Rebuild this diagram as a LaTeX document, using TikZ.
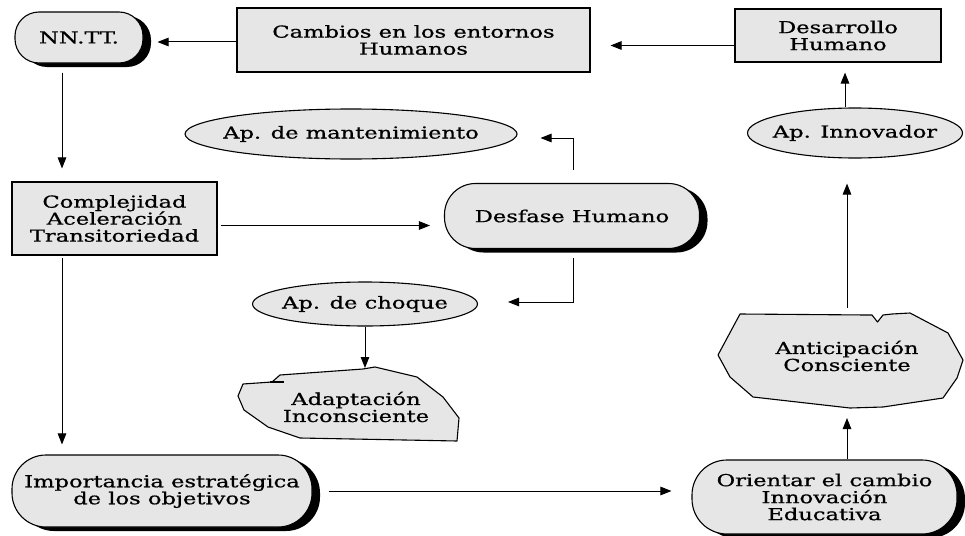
\documentclass[tikz,border=0pt]{standalone}
\usepackage{fontspec}
\setmainfont{DejaVu Serif}[FakeStretch=1.37,FakeBold=0.8]
\usetikzlibrary{shapes.geometric,shadows,arrows.meta}
\definecolor{boxfill}{RGB}{230,230,230}
\begin{document}
\begin{tikzpicture}[x=1pt,y=-1pt,
  every node/.style={font=\fontsize{16.5}{17}\selectfont, align=center, text=black},
  box/.style={draw, line width=1.1pt, fill=boxfill, rectangle, inner sep=0pt},
  pill/.style={draw, line width=1.1pt, fill=boxfill, rectangle, inner sep=0pt,
    drop shadow={shadow xshift=8pt, shadow yshift=-4pt, fill=black, opacity=1}},
  oval/.style={draw, line width=1.1pt, fill=boxfill, ellipse, inner sep=0pt},
  arr/.style={-{Triangle[length=11pt,width=8.5pt]}, line width=1pt},
  blob/.style={draw, line width=1.1pt, fill=boxfill, line join=round}
]
\useasboundingbox[fill=white] (0,0) rectangle (965,535);

% nodes
\node[pill, minimum width=128pt, minimum height=51pt, rounded corners=24pt] (nntt) at (79,37.5) {NN.TT.};
\node[box, minimum width=353pt, minimum height=64pt] (cambios) at (413.5,40) {Cambios en los entornos\\Humanos};
\node[box, minimum width=206pt, minimum height=53pt] (desarrollo) at (838,35.5) {Desarrollo\\Humano};
\node[oval, minimum width=215pt, minimum height=50pt, label={center:Ap. Innovador}] (innov) at (855,133) {};
\node[oval, minimum width=332pt, minimum height=50pt, label={center:Ap. de mantenimiento}] (mant) at (351,134) {};
\node[pill, minimum width=255pt, minimum height=65pt, rounded corners=31pt] (desfase) at (572,216) {Desfase Humano};
\node[box, minimum width=205pt, minimum height=73pt] (complej) at (114.5,218.5) {Complejidad\\Aceleración\\Transitoriedad};
\node[oval, minimum width=225pt, minimum height=44pt, label={center:Ap. de choque}] (choque) at (365,304) {};
\node[pill, minimum width=300pt, minimum height=72pt, rounded corners=34pt] (importancia) at (162,491) {Importancia estratégica\\de los objetivos};
\node[pill, minimum width=265pt, minimum height=74pt, rounded corners=35pt] (orientar) at (824.5,497) {Orientar el cambio\\Innovación\\Educativa};

% irregular shapes
\draw[blob] (740,314) -- (867,315) -- (872,315) -- (877.5,322) -- (883,315) -- (892,314) -- (910,313)
  -- (948,333) -- (963,360) -- (957,378) -- (943,398) -- (883,407) -- (850,408) -- (753,397)
  -- (730,377) -- (718,355) -- cycle;
\node (antic) at (847,356) {Anticipación\\Consciente};

\draw[blob] (280,375) -- (363,369) -- (375,367) -- (417,377) -- (443,397) -- (459,418) -- (457,441)
  -- (300,438) -- (268,427) -- (244,410) -- (238,396) -- (243,384) -- (272,382) -- cycle;
\draw[line width=1.1pt] (270,382) -- (284,382);
\node (adapt) at (356,407) {Adaptación\\Inconsciente};

% named coordinates
\coordinate (adtop) at (365,368);
\coordinate (antbot) at (847,408);
\coordinate (anttop) at (847,313);
\coordinate (mantr) at ([yshift=-4pt]mant.east);
\coordinate (choqr) at ([yshift=2pt]choque.east);

% connectors
\draw[arr, shorten >=14pt] ([yshift=-2pt]cambios.west) -- ([yshift=-2pt]cambios.west -| nntt.east);
\draw[arr, shorten >=20pt] ([yshift=-10pt]desarrollo.west) -- ([yshift=-10pt]desarrollo.west -| cambios.east);
\draw[arr, shorten <=9pt, shorten >=13pt] ([xshift=-17pt]nntt.south) -- ([xshift=-17pt]nntt.south |- complej.north);
\draw[arr, shorten <=3pt, shorten >=14pt] ([yshift=-7pt]complej.east) -- ([yshift=-7pt]complej.east -| desfase.west);
\draw[arr, shorten <=2pt, shorten >=10pt] ([xshift=-52.5pt]complej.south) -- ([xshift=-52.5pt]complej.south |- importancia.north);
\draw[arr, shorten <=13pt, shorten >=23pt] ([xshift=1pt]desfase.north) -- ([xshift=1pt]desfase.north |- mantr) -- (mantr);
\draw[arr, shorten <=9pt, shorten >=30pt] ([xshift=1pt]desfase.south) -- ([xshift=1pt]desfase.south |- choqr) -- (choqr);
\draw[arr] (choque.south) -- (adtop);
\draw[arr, shorten <=16pt, shorten >=20pt] (importancia.east) -- (importancia.east -| orientar.west);
\draw[arr, shorten >=10pt] ([xshift=22.5pt]orientar.north) -- (antbot);
\draw[arr, shorten <=5pt, shorten >=25pt] (anttop) -- (anttop |- innov.south);
\draw[arr, shorten >=10pt] ([xshift=-10pt]innov.north) -- ([xshift=-10pt]innov.north |- desarrollo.south);
\end{tikzpicture}
\end{document}
